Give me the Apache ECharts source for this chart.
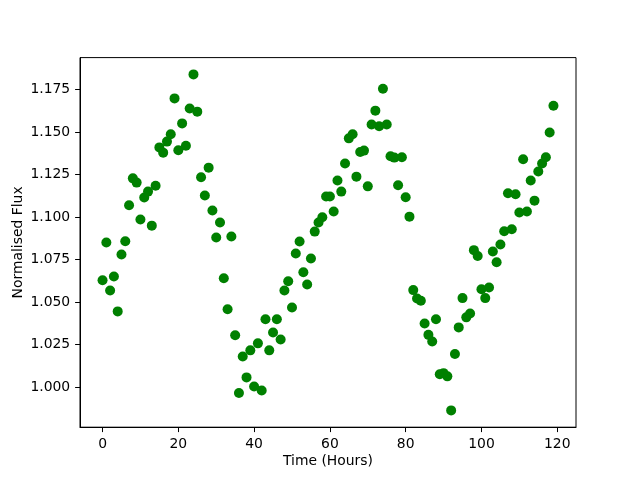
<!DOCTYPE html>
<html>
<head>
<meta charset="utf-8">
<script src="https://cdn.jsdelivr.net/npm/echarts@6/dist/echarts.min.js"></script>
<style>html,body{margin:0;padding:0;background:#fff}#c{width:640px;height:480px}</style>
</head>
<body>
<div id="c"></div>
<script>
const hours = [];
for (let i = 0; i < 120; i++) hours.push(i);
const flux = [
1.0628,1.0850,1.0568,1.0650,1.0445,1.0779,1.0857,1.1069,1.1227,1.1202,
1.0985,1.1114,1.1149,1.0949,1.1184,1.1409,1.1378,1.1443,1.1486,1.1697,
1.1392,1.1550,1.1419,1.1638,1.1838,1.1619,1.1233,1.1126,1.1290,1.1038,
1.0879,1.0967,1.0640,1.0458,1.0885,1.0305,0.9965,1.0180,1.0057,1.0216,
1.0004,1.0257,0.9980,1.0399,1.0216,1.0321,1.0399,1.0280,1.0568,1.0622,
1.0468,1.0785,1.0856,1.0675,1.0603,1.0756,1.0914,1.0967,1.0998,1.1120,
1.1120,1.1032,1.1214,1.1149,1.1314,1.1462,1.1486,1.1237,1.1382,1.1390,
1.1180,1.1543,1.1625,1.1533,1.1754,1.1543,1.1357,1.1349,1.1186,1.1351,
1.1116,1.1002,1.0570,1.0521,1.0507,1.0374,1.0307,1.0268,1.0399,1.0076,
1.0082,1.0063,0.9863,1.0194,1.0351,1.0523,1.0410,1.0433,1.0805,1.0771,
1.0575,1.0523,1.0585,1.0797,1.0734,1.0838,1.0916,1.1139,1.0928,1.1133,
1.1026,1.1339,1.1032,1.1214,1.1096,1.1267,1.1314,1.1351,1.1496,1.1654
];
const xTicks = [0,20,40,60,80,100,120];
const yTicks = [1.000,1.025,1.050,1.075,1.100,1.125,1.150,1.175];

const points = hours.map((h, i) => [h, flux[i]]);
const xr = [Math.min(...hours), Math.max(...hours)];
const yr = [Math.min(...flux), Math.max(...flux)];
const xm = (xr[1]-xr[0])*0.05, ym = (yr[1]-yr[0])*0.05;

const chart = echarts.init(document.getElementById('c'), null, {renderer:'canvas'});
const font = 'DejaVu Sans';
chart.setOption({
  animation: false,
  backgroundColor: '#fff',
  grid: {left: 80, right: 64, top: 57.6, bottom: 52.8, show: true, borderColor: '#000', borderWidth: 1, backgroundColor: 'transparent'},
  xAxis: {
    type: 'value', min: xr[0]-xm, max: xr[1]+xm,
    name: 'Time (Hours)', nameLocation: 'middle', nameGap: 27, nameMoveOverlap: false,
    nameTextStyle: {fontFamily: font, fontSize: 13.9, color: '#000'},
    axisLine: {show: true, onZero: false, lineStyle: {color: '#000', width: 1}},
    axisTick: {show: true, length: 4.9, lineStyle: {color: '#000'}, customValues: xTicks},
    axisLabel: {fontFamily: font, fontSize: 13.9, color: '#000', margin: 9.8, customValues: xTicks, formatter: v => String(v)},
    splitLine: {show: false}
  },
  yAxis: {
    type: 'value', min: yr[0]-ym, max: yr[1]+ym,
    name: 'Normalised Flux', nameLocation: 'middle', nameGap: 55, nameMoveOverlap: false,
    nameTextStyle: {fontFamily: font, fontSize: 13.9, color: '#000'},
    axisLine: {show: true, onZero: false, lineStyle: {color: '#000', width: 1}},
    axisTick: {show: true, length: 4.9, lineStyle: {color: '#000'}, customValues: yTicks},
    axisLabel: {fontFamily: font, fontSize: 13.9, color: '#000', margin: 9.8, customValues: yTicks, formatter: v => v.toFixed(3)},
    splitLine: {show: false}
  },
  series: [{
    type: 'scatter', data: points, symbol: 'circle', symbolSize: 10,
    itemStyle: {color: '#008000', opacity: 1}
  }]
});
</script>
</body>
</html>
